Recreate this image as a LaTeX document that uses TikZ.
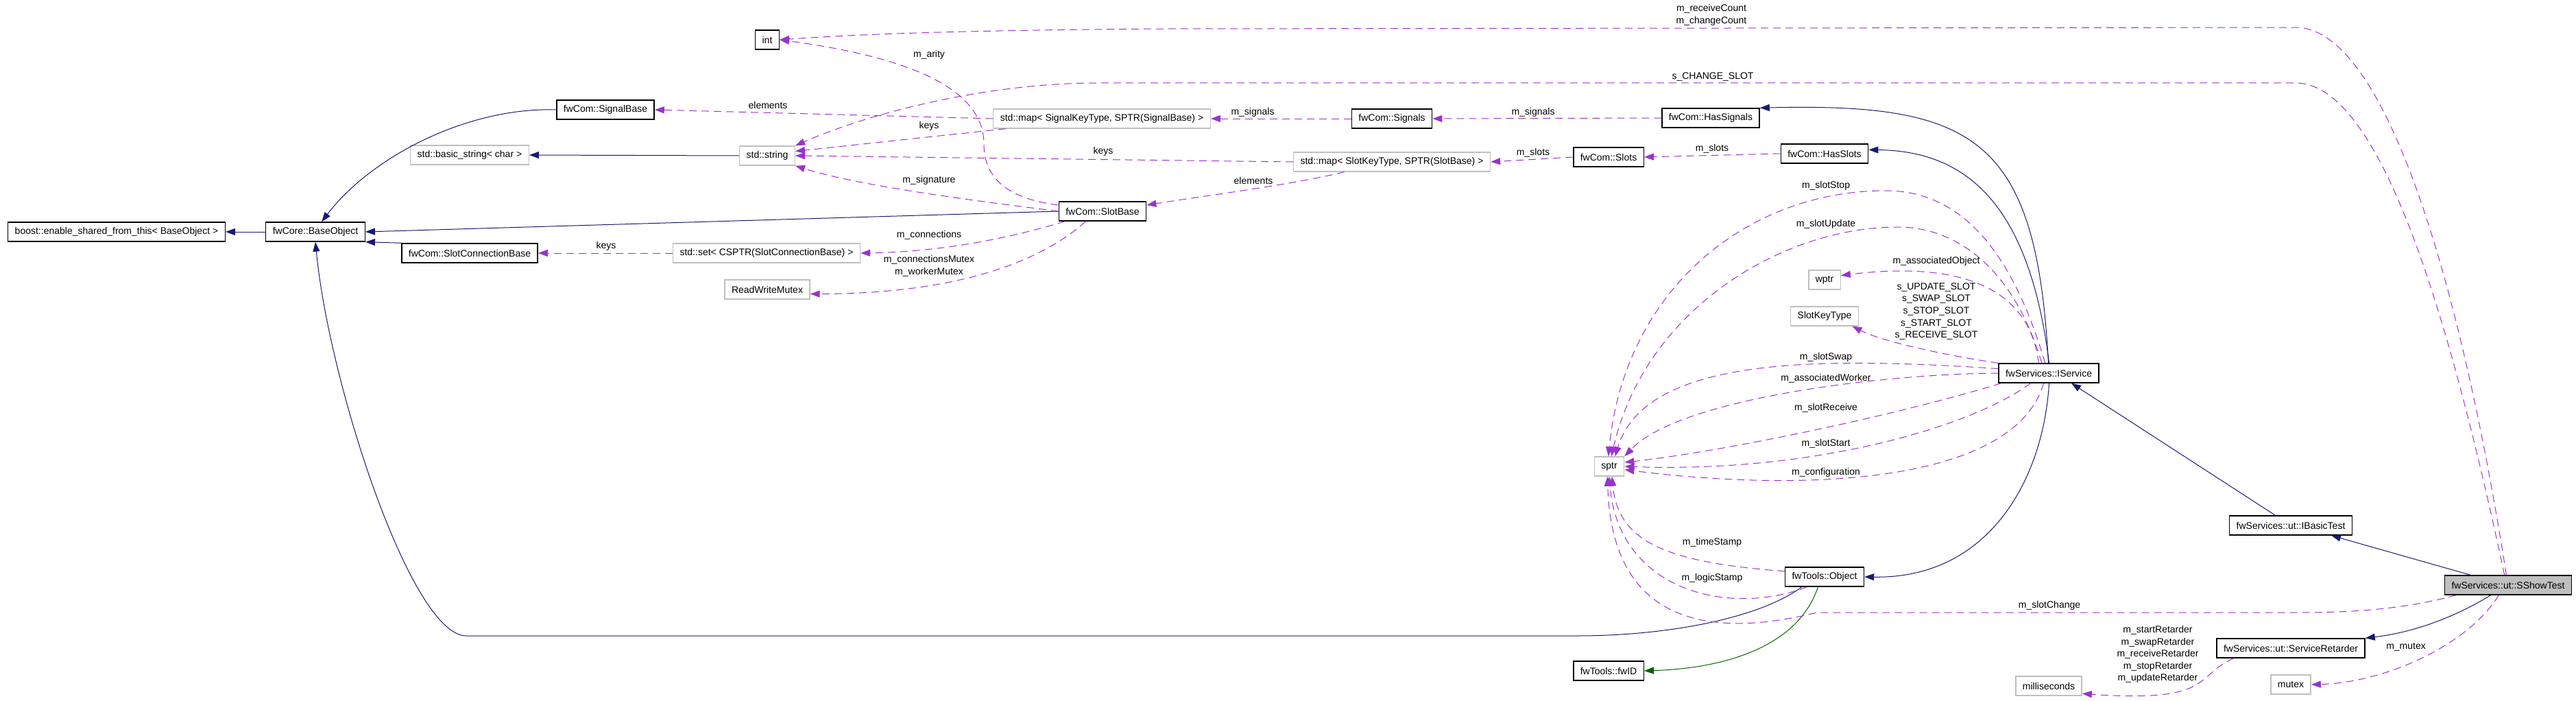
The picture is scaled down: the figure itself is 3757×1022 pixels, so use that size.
\documentclass[tikz,border=0pt]{standalone}
\usepackage{fontspec}
\setmainfont{Liberation Sans}
\usepackage{xcolor}
\usetikzlibrary{arrows.meta}

\definecolor{inhblue}{HTML}{191970}
\definecolor{usepurple}{HTML}{9A32CD}
\definecolor{protgreen}{HTML}{006400}
\definecolor{extgray}{HTML}{BFBFBF}

\begin{document}
\begin{tikzpicture}[
    x=0.5pt, y=-0.5pt,
    >={Triangle[length=7pt,width=5pt]},
    cls/.style={rectangle, draw=black, line width=0.7pt, fill=white, minimum height=14pt, inner xsep=5pt, inner ysep=0pt, font=\fontsize{7}{8.8}\selectfont},
    ext/.style={cls, draw=extgray},
    inh/.style={->, draw=inhblue, fill=none, line width=0.5pt},
    prot/.style={->, draw=protgreen, fill=none, line width=0.5pt},
    use/.style={->, draw=usepurple, fill=none, line width=0.5pt, dash pattern=on 5.5pt off 3.5pt},
    lbl/.style={font=\fontsize{7}{8.8}\selectfont, align=center, inner sep=0pt}
]
\useasboundingbox (0,0) rectangle (3757,1022);

% === Classes ===
\node[cls] (boost) at (170,338) {boost::enable\_shared\_from\_this< BaseObject >};
\node[cls] (baseobj) at (460,338) {fwCore::BaseObject};
\node[cls] (signalbase) at (883,160) {fwCom::SignalBase};
\node[ext] (basicstr) at (685,226) {std::basic\_string< char >};
\node[cls] (slotconnbase) at (685,369) {fwCom::SlotConnectionBase};
\node[cls] (int) at (1119,58) {int};
\node[ext] (stdstring) at (1119,227) {std::string};
\node[ext] (setconn) at (1118,369) {std::set< CSPTR(SlotConnectionBase) >};
\node[ext] (rwmutex) at (1119,422) {ReadWriteMutex};
\node[ext] (mapsig) at (1607,173) {std::map< SignalKeyType, SPTR(SignalBase) >};
\node[cls] (slotbase) at (1608,308) {fwCom::SlotBase};
\node[ext] (mapslot) at (2030,236) {std::map< SlotKeyType, SPTR(SlotBase) >};
\node[cls] (signals) at (2030,173) {fwCom::Signals};
\node[cls] (slots) at (2346,229) {fwCom::Slots};
\node[cls] (hassignals) at (2495,172) {fwCom::HasSignals};
\node[cls] (hasslots) at (2661,224) {fwCom::HasSlots};
\node[ext] (wptr) at (2661,408) {wptr};
\node[ext] (slotkeytype) at (2661,461) {SlotKeyType};
\node[ext] (sptr) at (2347,680) {sptr};
\node[cls] (iservice) at (2988,544) {fwServices::IService};
\node[cls] (object) at (2661,841) {fwTools::Object};
\node[cls] (fwid) at (2346,978) {fwTools::fwID};
\node[ext] (millis) at (2988,1000) {milliseconds};
\node[cls] (ibasic) at (3341,766) {fwServices::ut::IBasicTest};
\node[cls] (retarder) at (3341,945) {fwServices::ut::ServiceRetarder};
\node[ext] (mutex) at (3341,998) {mutex};
\node[cls, fill=extgray] (sshow) at (3658,853) {fwServices::ut::SShowTest};

% === Inheritance ===
\draw[inh] (baseobj.west) -- (boost.east);
\draw[inh] (signalbase.west) .. controls (680,156) and (540,230) .. (baseobj.58);
\draw[inh] (stdstring.west) -- (basicstr.east);
\draw[inh] (slotbase.west) -- (baseobj.east);
\draw[inh] (slotconnbase.north west) -- (baseobj.south east);
\draw[inh] (object.-156) .. controls (2560,905) and (2420,927) .. (2300,927) -- (680,927)
    .. controls (600,927) and (480,560) .. (baseobj.south);
\draw[inh] (iservice.92) .. controls (2970,200) and (2880,150) .. (hassignals.north east);
\draw[inh] (iservice.88) .. controls (2960,300) and (2870,220) .. (hasslots.5);
\draw[inh] (iservice.-88) .. controls (2980,700) and (2900,844) .. (object.east);
\draw[inh] (ibasic.147) -- (iservice.-24);
\draw[inh] (sshow.165) -- (ibasic.-14);
\draw[inh] (sshow.-150) .. controls (3580,900) and (3520,922) .. (retarder.north east);
\draw[prot] (object.-123) .. controls (2620,950) and (2500,975) .. (fwid.east);

% === Members ===
\draw[use] (mapsig.west) -- (signalbase.east);
\node[lbl] (lelemsig) at (1120,153) {elements};
\draw[use] (mapsig.-174) -- (stdstring.9);
\node[lbl] (lkeysig) at (1355,184) {keys};
\draw[use] (signals.west) -- (mapsig.east);
\node[lbl] (lsignals) at (1827,164) {m\_signals};
\draw[use] (hassignals.west) -- (signals.east);
\node[lbl] (lhassignals) at (2236,164) {m\_signals};
\draw[use] (mapslot.west) -- (stdstring.east);
\node[lbl] (lkeyslot) at (1609,221) {keys};
\draw[use] (mapslot.-168) .. controls (1880,270) and (1760,285) .. (slotbase.8);
\node[lbl] (lelemslot) at (1828,263) {elements};
\draw[use] (slots.west) -- (mapslot.east);
\node[lbl] (lslots) at (2236,223) {m\_slots};
\draw[use] (hasslots.west) -- (slots.east);
\node[lbl] (lhasslots) at (2497,217) {m\_slots};
\draw[use] (setconn.west) -- (slotconnbase.east);
\node[lbl] (lkeyconn) at (884,359) {keys};

% SlotBase members
\draw[use] (slotbase.172) .. controls (1470,290) and (1435,260) .. (1435,210)
    .. controls (1435,120) and (1300,80) .. (int.east);
\node[lbl] (larity) at (1355,80) {m\_arity};
\draw[use] (slotbase.west) .. controls (1400,290) and (1250,270) .. (stdstring.south east);
\node[lbl] (lsignature) at (1355,263) {m\_signature};
\draw[use] (slotbase.-165) .. controls (1480,345) and (1380,367) .. (setconn.east);
\node[lbl] (lconnections) at (1355,343) {m\_connections};
\draw[use] (slotbase.-149) .. controls (1520,380) and (1400,428) .. (rwmutex.-6);
\node[lbl] (lmutexes) at (1355,388) {m\_connectionsMutex\\m\_workerMutex};

% IService members
\draw[use] (iservice.110) .. controls (2930,350) and (2850,278) .. (2750,278)
    .. controls (2550,278) and (2370,420) .. (sptr.95);
\node[lbl] (lslotstop) at (2663,271) {m\_slotStop};
\draw[use] (iservice.125) .. controls (2940,400) and (2860,331) .. (2768,331)
    .. controls (2600,331) and (2400,450) .. (sptr.78);
\node[lbl] (lslotupdate) at (2663,327) {m\_slotUpdate};
\draw[use] (iservice.135) .. controls (2960,420) and (2860,380) .. (wptr.15);
\node[lbl] (lassocobj) at (2824,381) {m\_associatedObject};
\draw[use] (iservice.north west) .. controls (2850,520) and (2750,500) .. (slotkeytype.-20);
\node[lbl] (lslotkeys) at (2824,454) {s\_UPDATE\_SLOT\\s\_SWAP\_SLOT\\s\_STOP\_SLOT\\s\_START\_SLOT\\s\_RECEIVE\_SLOT};
\draw[use] (iservice.175) .. controls (2650,520) and (2400,520) .. (sptr.60);
\node[lbl] (lslotswap) at (2663,521) {m\_slotSwap};
\draw[use] (iservice.west) .. controls (2750,545) and (2450,580) .. (sptr.north east);
\node[lbl] (lassocworker) at (2663,552) {m\_associatedWorker};
\draw[use] (iservice.-168) .. controls (2750,610) and (2500,660) .. (sptr.15);
\node[lbl] (lslotreceive) at (2663,595) {m\_slotReceive};
\draw[use] (iservice.-151) .. controls (2880,620) and (2650,690) .. (sptr.0);
\node[lbl] (lslotstart) at (2663,647) {m\_slotStart};
\draw[use] (iservice.-117) .. controls (2940,700) and (2650,720) .. (sptr.-12);
\node[lbl] (lconfig) at (2663,689) {m\_configuration};

% Object members
\draw[use] (object.172) .. controls (2430,820) and (2360,790) .. (sptr.-75);
\node[lbl] (ltimestamp) at (2497,791) {m\_timeStamp};
\draw[use] (object.-150) .. controls (2520,900) and (2360,860) .. (sptr.-90);
\node[lbl] (llogicstamp) at (2497,843) {m\_logicStamp};

% SShowTest members
\draw[use] (sshow.100) .. controls (3590,420) and (3480,40) .. (3348,40) -- (1700,42)
    .. controls (1400,44) and (1250,50) .. (int.east);
\node[lbl] (lcounts) at (2496,22) {m\_receiveCount\\m\_changeCount};
\draw[use] (sshow.110) .. controls (3570,450) and (3470,121) .. (3348,121) -- (1600,121)
    .. controls (1450,121) and (1280,160) .. (stdstring.north east);
\node[lbl] (lchangeslot) at (2498,112) {s\_CHANGE\_SLOT};
\draw[use] (sshow.-169) .. controls (3500,890) and (3420,893) .. (3350,893) -- (2650,893)
    .. controls (2480,935) and (2350,900) .. (sptr.-100);
\node[lbl] (lslotchange) at (2989,883) {m\_slotChange};
\draw[use] (sshow.-133) .. controls (3600,940) and (3480,995) .. (mutex.east);
\node[lbl] (lmutex) at (3509,943) {m\_mutex};
\draw[use] (retarder.-170) .. controls (3200,985) and (3230,1025) .. (millis.-13);
\node[lbl] (lretarders) at (3147,954) {m\_startRetarder\\m\_swapRetarder\\m\_receiveRetarder\\m\_stopRetarder\\m\_updateRetarder};
\end{tikzpicture}
\end{document}
